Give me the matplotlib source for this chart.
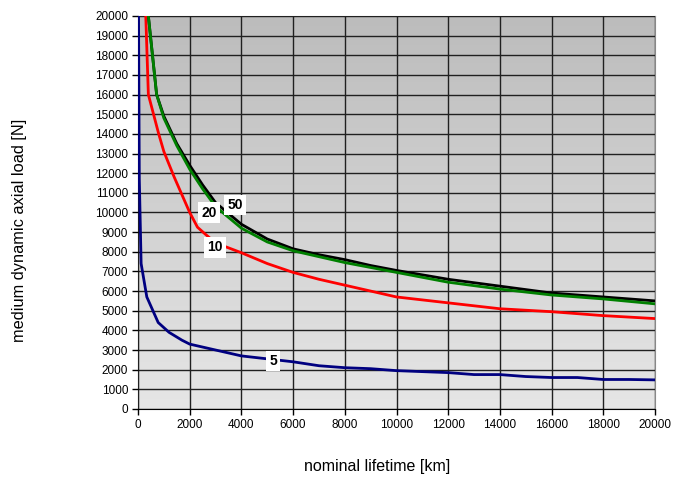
import numpy as np
import matplotlib
matplotlib.use('Agg')
import matplotlib.pyplot as plt

plt.rcParams['font.family'] = ['Liberation Sans', 'DejaVu Sans']

# values
x5 = [20, 50, 120, 340, 780, 1200, 1700, 2000, 3000, 4000, 5000, 6000, 7000, 8000,
      9000, 10000, 11000, 12000, 13000, 14000, 15000, 16000, 17000, 18000, 19000, 20000]
y5 = [20000, 11700, 7400, 5700, 4400, 3900, 3500, 3300, 3000, 2700, 2550, 2400, 2200, 2100,
      2050, 1950, 1900, 1850, 1750, 1750, 1650, 1600, 1600, 1500, 1500, 1480]

x10 = [300, 400, 600, 800, 1000, 1400, 2000, 2300, 2600, 3000, 4000, 5000, 6000, 7000,
       8000, 9000, 10000, 12000, 14000, 16000, 18000, 20000]
y10 = [20000, 16000, 15000, 14000, 13100, 11800, 10000, 9250, 8900, 8450, 7950, 7400, 6950, 6600,
       6300, 6000, 5700, 5400, 5100, 4950, 4750, 4600]

x_hi = [400, 720, 1000, 1500, 2000, 2500, 3000, 4000, 5000, 6000, 7000, 8000, 9000,
        10000, 12000, 14000, 16000, 18000, 20000]
y20 = [20000, 16000, 14800, 13400, 12200, 11200, 10300, 9200, 8500, 8050, 7750, 7450, 7200,
       6950, 6450, 6100, 5800, 5600, 5350]
y50 = [20000, 16000, 14900, 13500, 12400, 11400, 10500, 9400, 8650, 8150, 7850, 7600, 7300,
       7050, 6600, 6250, 5900, 5700, 5500]

labels = ['5', '10', '20', '50']
label_pos = [(5220, 2440), (2980, 8240), (2750, 9980), (3750, 10380)]

fig = plt.figure(figsize=(6.87, 4.8), dpi=100)
ax = fig.add_axes([0.2009, 0.148, 0.7525, 0.8187])

# gradient background, darker at the top
grad = np.linspace(0, 1, 256).reshape(-1, 1)
ax.imshow(grad, extent=[0, 20000, 0, 20000], aspect='auto', origin='lower',
          cmap=matplotlib.colors.LinearSegmentedColormap.from_list('bg', ['#e6e6e6', '#bcbcbc']),
          zorder=0)

ax.set_xlim(0, 20000)
ax.set_ylim(0, 20000)
ax.set_xticks(range(0, 20001, 2000))
ax.set_yticks(range(0, 20001, 1000))
ax.grid(True, color='#202020', linewidth=1.0, zorder=1)
ax.set_axisbelow(False)

ax.plot(x5, y5, color='#000080', lw=2, zorder=3)
ax.plot(x10, y10, color='#ff0000', lw=2, zorder=3)
ax.plot(x_hi, y50, color='black', lw=2, zorder=3)
ax.plot(x_hi, y20, color='#008000', lw=2, zorder=3)

for t, (px, py) in zip(labels, label_pos):
    ax.text(px, py, t, fontsize=10, fontweight='bold', ha='center', va='center', zorder=5,
            bbox=dict(facecolor='white', edgecolor='none', pad=2.5))

for s in ['top', 'right']:
    ax.spines[s].set_color('#888888')
ax.spines['left'].set_color('black')
ax.spines['bottom'].set_color('black')
ax.tick_params(labelsize=8.5, length=4, width=1, pad=3)

fig.text(377 / 687, 1 - 466 / 480, 'nominal lifetime [km]', fontsize=11.5,
         ha='center', va='center')
fig.text(20 / 687, 1 - 230 / 480, 'medium dynamic axial load [N]', fontsize=11.8,
         ha='center', va='center', rotation=90)

fig.savefig('out.png', dpi=100)
plt.close(fig)
